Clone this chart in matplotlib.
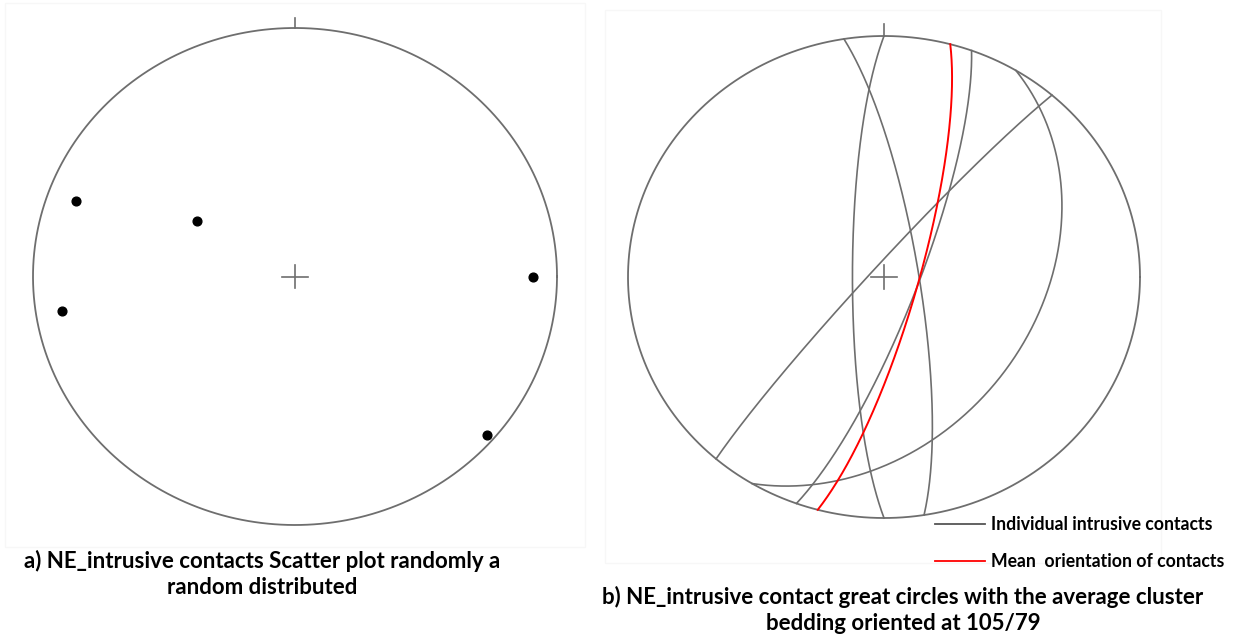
import numpy as np
import matplotlib.pyplot as plt
from matplotlib.lines import Line2D
from matplotlib.patches import Rectangle

# NE intrusive contacts, poles as trend / plunge (deg)
pole_trend = [290, 301, 261, 90, 131]
pole_plunge = [12, 54, 11, 10, 3]

# individual contact planes, strike / dip (right hand rule)
contact_strike = [351, 180, 20, 31, 221]
contact_dip = [79, 80, 79, 39, 86]

# mean orientation, dip direction / dip
mean_dipdir = 105
mean_dip = 79

W, H = 1233, 637
grey = '#6e6e6e'


def project(n, e, d):
    # lower hemisphere equal area (Schmidt) net, primitive radius 1
    k = 1.0 / np.sqrt(1.0 + d)
    return e * k, n * k


def pole_xy(trend, plunge):
    t, p = np.radians(trend), np.radians(plunge)
    return project(np.cos(p) * np.cos(t), np.cos(p) * np.sin(t), np.sin(p))


def great_circle(strike, dip, n=361):
    s, dp = np.radians(strike), np.radians(dip)
    r = np.linspace(0, np.pi, n)
    sv = np.array([np.cos(s), np.sin(s), 0.0])
    dv = np.array([np.cos(s + np.pi / 2) * np.cos(dp),
                   np.sin(s + np.pi / 2) * np.cos(dp),
                   np.sin(dp)])
    v = np.outer(np.cos(r), sv) + np.outer(np.sin(r), dv)
    return project(v[:, 0], v[:, 1], v[:, 2])


def net(ax, tick, cx, cy):
    t = np.linspace(0, 2 * np.pi, 500)
    ax.plot(np.cos(t), np.sin(t), color=grey, lw=1.3, clip_on=False)
    ax.plot([0, 0], [1, 1 + tick], color=grey, lw=1.2, clip_on=False)
    ax.plot([-cx, cx], [0, 0], color=grey, lw=1.2, clip_on=False)
    ax.plot([0, 0], [-cy, cy], color=grey, lw=1.2, clip_on=False)
    ax.set_xlim(-1, 1)
    ax.set_ylim(-1, 1)
    ax.axis('off')


def px_box(x0, x1, y0, y1):
    return [x0 / W, 1 - y1 / H, (x1 - x0) / W, (y1 - y0) / H]


plt.rcParams['font.family'] = ['Lato', 'DejaVu Sans']
fig = plt.figure(figsize=(W / 100, H / 100), dpi=100)

# faint frames of the two panels
for x0, y0, x1, y1 in [(5, 3, 585, 547), (605, 10, 1161, 563)]:
    fig.patches.append(Rectangle((x0 / W, 1 - y1 / H), (x1 - x0) / W, (y1 - y0) / H,
                                 transform=fig.transFigure, fill=False,
                                 edgecolor='#f7f7f7', lw=1.0))

# a) scatter of poles
ax1 = fig.add_axes(px_box(33, 557, 28, 525))
net(ax1, 0.04, 0.05, 0.048)
px, py = pole_xy(np.array(pole_trend), np.array(pole_plunge))
ax1.plot(px, py, 'o', color='black', ms=6.3, clip_on=False)

# b) great circles
ax2 = fig.add_axes(px_box(628, 1140, 36, 518))
net(ax2, 0.05, 0.05, 0.05)
for s, d in zip(contact_strike, contact_dip):
    gx, gy = great_circle(s, d)
    ax2.plot(gx, gy, color=grey, lw=1.2, clip_on=False)
mx, my = great_circle(mean_dipdir - 90, mean_dip)
ax2.plot(mx, my, color='red', lw=1.4, clip_on=False)

handles = [Line2D([], [], color='#555555', lw=1.3),
           Line2D([], [], color='red', lw=1.3)]
fig.legend(handles, ['Individual intrusive contacts', 'Mean  orientation of contacts'],
           loc='upper left', bbox_to_anchor=(935 / W, 1 - 516 / H),
           frameon=False, handlelength=2.85, handletextpad=0.3,
           labelspacing=1.15, borderpad=0, borderaxespad=0,
           prop={'size': 12.7, 'weight': 'bold'})

fig.text(262 / W, 1 - 574 / H,
         'a) NE_intrusive contacts Scatter plot randomly a\nrandom distributed',
         ha='center', va='center', multialignment='center',
         fontsize=16, fontweight='bold', linespacing=1.25)
fig.text(903 / W, 1 - 610 / H,
         'b) NE_intrusive contact great circles with the average cluster\n'
         'bedding oriented at 105/79',
         ha='center', va='center', multialignment='center',
         fontsize=16, fontweight='bold', linespacing=1.25)

fig.savefig('out.png', dpi=100)
